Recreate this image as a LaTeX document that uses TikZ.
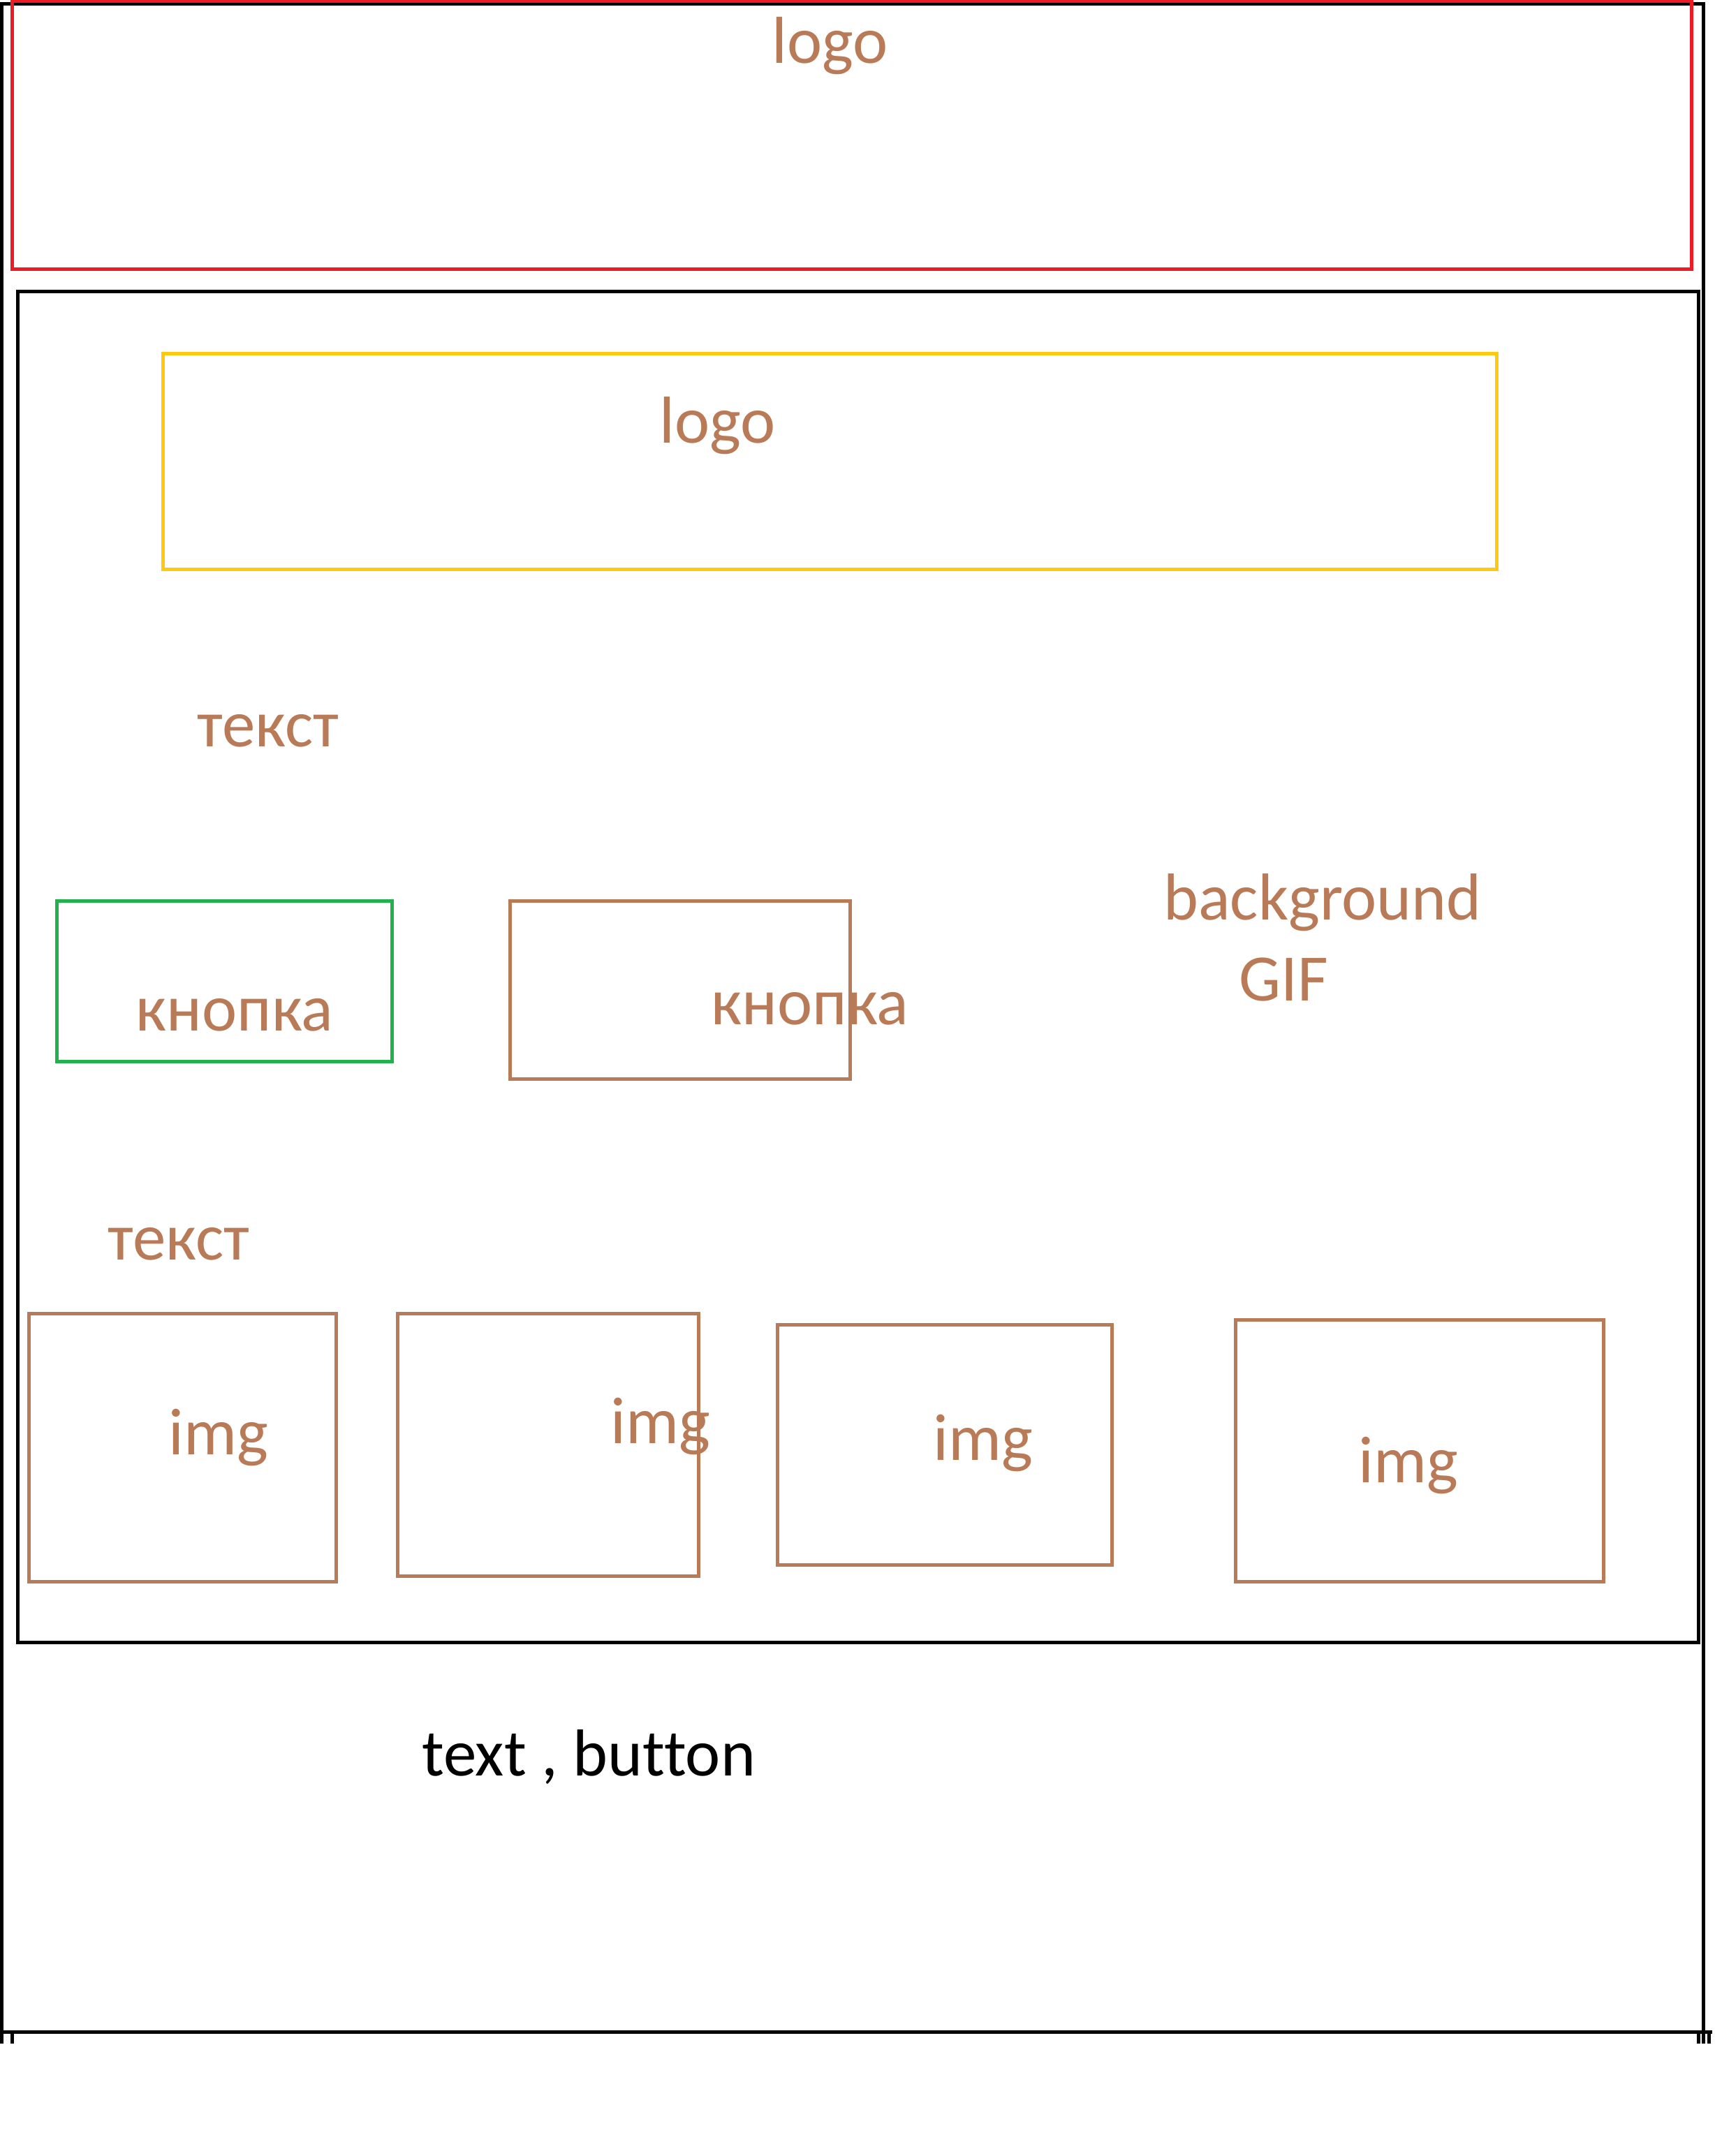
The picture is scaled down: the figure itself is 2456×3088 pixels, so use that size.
\documentclass[tikz,border=0pt]{standalone}
\usepackage{fontspec}
\setmainfont[Ligatures=NoCommon]{Carlito}
\definecolor{brownish}{RGB}{185,122,87}
\definecolor{pgreen}{RGB}{34,177,76}
\definecolor{pred}{RGB}{237,28,36}
\definecolor{pyellow}{RGB}{255,201,14}
\begin{document}
\begin{tikzpicture}[x=1pt,y=-1pt,line width=5pt,
  lbl/.style={anchor=base,inner sep=0pt,text=brownish,font=\fontsize{95}{116}\selectfont},
  blk/.style={anchor=base,inner sep=0pt,text=black,font=\fontsize{95}{116}\selectfont},
  boxb/.style={draw=brownish},
]
\useasboundingbox (0,0) rectangle (2456,3088);
% outer black frame
\draw[black] (0,5.5) -- (2442,5.5);
\draw[black] (2,5.5) -- (2,2927);
\draw[black] (2439,3) -- (2439,2927);
\draw[black] (0,2910) -- (2452,2910);
\draw[black] (17.5,2910) -- (17.5,2927);
\draw[black] (2432,2910) -- (2432,2927);
\draw[black] (2447,2910) -- (2447,2927);
% red header
\draw[pred] (17.5,2) rectangle (2422,385);
% inner black frame
\draw[black] (25.5,417.5) rectangle (2432,2352);
% yellow box
\draw[pyellow] (233,506) rectangle (2143,815);
% buttons
\draw[pgreen] (81,1290) rectangle (561,1520);
\draw[boxb] (730,1290) rectangle (1217,1545);
% image boxes
\draw[boxb] (41,1881) rectangle (481,2265);
\draw[boxb] (569,1881) rectangle (1000,2257);
\draw[boxb] (1113,1897) rectangle (1592,2241);
\draw[boxb] (1769,1890) rectangle (2296,2265);
% texts
\node[lbl] (logo1) at (1189,91) {logo};
\node[lbl] (logo2) at (1028,634) {logo};
\node[lbl] (tekst1) at (384,1069) {текст};
\node[lbl] (knopka1) at (336,1476) {кнопка};
\node[lbl] (knopka2) at (1160,1467) {кнопка};
\node[lbl] (bg) at (1894,1317) {background};
\node[lbl] (gif) at (1838,1433) {GIF};
\node[lbl] (tekst2) at (256,1804) {текст};
\node[lbl] (img1) at (313,2083) {img};
\node[lbl] (img2) at (946,2067) {img};
\node[lbl] (img3) at (1408,2091) {img};
\node[lbl] (img4) at (2017,2123) {img};
\node[blk] (tb) at (843,2543) {text , button};
\end{tikzpicture}
\end{document}
